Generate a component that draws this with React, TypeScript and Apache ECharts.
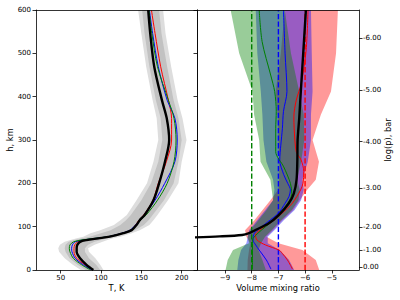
import React, { useEffect, useRef } from 'react';
import * as echarts from 'echarts';

// ---------- Left panel: temperature profiles ----------
const tempHeights = [0, 12, 27, 42, 50, 58, 65, 69, 73, 77, 85, 92, 104, 115, 127, 161, 200, 250, 300, 350, 392, 469, 546, 600];
const tempBlack = [90.5, 82, 74, 69.8, 69.8, 70.6, 74, 82, 96.7, 111, 127.7, 138, 144, 148, 154, 165, 172, 179.3, 184.5, 181.5, 175.5, 166, 161, 158.5];
const tempRed = [90, 80, 70, 66.5, 66.5, 67.5, 71, 80, 95, 110, 127, 137, 143, 147, 153, 164.5, 171, 181, 187.5, 187.5, 183.5, 174, 167, 162.5];
const tempBlue = [89, 78, 68, 64, 63.6, 64.5, 68, 77, 93, 109, 126, 136, 143, 148, 154, 167, 179, 191.6, 194.5, 191.6, 182, 171, 164, 160];
const tempGreen = [87, 76, 65.7, 61.5, 60.7, 61.5, 66, 75, 92, 109, 127, 137, 144, 149, 156, 170, 182, 190.5, 193, 190.5, 183.5, 170, 163, 159.5];
const grayOuterLo = [75, 65, 55, 48, 47, 49, 55, 62, 70, 78, 87, 99, 116, 124, 132, 144, 157, 165, 171, 169, 164, 156, 150, 146];
const grayOuterHi = [103, 99, 93, 85, 84, 92, 102, 108, 115, 124, 138, 148, 160, 165, 170, 183, 196, 200, 206, 201, 195, 187, 180, 177];
const grayInnerLo = [81, 71, 61, 56, 55, 56, 60, 67, 77, 86, 100, 112, 124, 131, 137, 150, 162, 171, 176, 174, 168, 160, 154, 151];
const grayInnerHi = [99, 94, 85, 80, 80, 84, 92, 100, 108, 117, 132, 142, 153, 159, 164, 178, 190, 196, 200, 196, 190, 182, 175, 172];
const tempTicks = [50, 100, 150, 200];

// ---------- Right panel: volume mixing ratio (log10) ----------
const bandHeights = [0, 23, 46, 61.5, 77, 92, 115, 138, 161, 185, 208, 250, 300, 358, 412, 500, 600];
const greenLo = [-8.98, -8.9, -8.7, -8.1, -8.15, -8.05, -7.75, -7.45, -7.2, -7.25, -7.3, -7.67, -7.72, -7.91, -7.97, -8.47, -8.79];
const greenHi = [-7.47, -7.6, -7.75, -7.65, -7.5, -7.25, -6.9, -6.5, -6.25, -6.2, -6.3, -6.15, -6.03, -6.05, -6.22, -6.53, -6.76];
const blueLo = [-8.54, -8.5, -8.4, -8.2, -8.15, -8.1, -7.8, -7.5, -7.2, -7.15, -7.2, -7.45, -7.56, -7.6, -7.66, -7.79, -7.85];
const blueHi = [-6.41, -6.6, -6.95, -7.4, -7.4, -7.15, -6.8, -6.4, -6.15, -6.05, -6.1, -5.9, -5.78, -5.78, -5.72, -5.75, -5.78];
const redLo = [-8.16, -8.15, -8.1, -8.05, -8.2, -8.25, -7.9, -7.6, -7.3, -7.0, -6.97, -6.97, -7.0, -7.03, -7.1, -6.91, -6.76];
const redHi = [-5.47, -5.6, -6.1, -7.0, -7.45, -7.2, -6.85, -6.45, -6.2, -5.92, -5.6, -5.48, -5.72, -5.41, -5.03, -4.84, -4.77];

const vmrBlackH = [75.0, 77.5, 80.8, 85, 92.3, 107.7, 127, 154, 177, 208, 254, 300, 350, 412, 500, 600];
const vmrBlackX = [-10.3, -9.2, -8.36, -8.1, -7.86, -7.36, -6.98, -6.61, -6.42, -6.32, -6.29, -6.28, -6.22, -6.16, -6.07, -5.97];
const vmrRedH = [2, 23, 38, 46, 57.7, 69, 80.8, 96, 111.5, 131, 154, 184.6, 200, 227, 254, 273, 327, 354, 392, 431, 508, 600];
const vmrRedX = [-6.47, -6.66, -6.85, -6.98, -7.48, -7.8, -7.86, -7.61, -7.23, -6.86, -6.48, -6.17, -6.08, -6.05, -6.15, -6.33, -6.41, -6.42, -6.33, -6.14, -5.96, -5.89];
const vmrBlueH = [2, 23, 46, 57.7, 69, 85, 96, 111, 131, 154, 170, 185, 200, 220, 254, 288, 327, 366, 412, 500, 600];
const vmrBlueX = [-7.28, -7.45, -7.72, -7.85, -7.95, -7.9, -7.7, -7.4, -7.0, -6.75, -6.6, -6.55, -6.65, -6.8, -6.95, -6.91, -6.85, -6.81, -6.68, -6.75, -6.81];
const vmrGreenH = [2, 30, 61.5, 69, 83, 100, 119, 146, 177, 200, 238, 273, 327, 366, 412, 450, 527, 600];
const vmrGreenX = [-7.97, -7.97, -7.97, -7.97, -7.8, -7.48, -7.11, -6.73, -6.5, -6.55, -6.8, -7.1, -7.1, -7.08, -7.14, -7.29, -7.61, -7.72];
const refValues = [-8, -7, -6];
const refColors = ['#008000', '#0000ff', '#ff0000'];
const vmrTicks = [-9, -8, -7, -6, -5];

// log(p) axis: labels and the altitudes where they sit
const logpLabels = ['0.00', '-1.00', '-2.00', '-3.00', '-4.00', '-5.00', '-6.00'];
const logpHeights = [6.2, 46.2, 98.5, 188.5, 296, 415.4, 534.6];

const FONT = 'DejaVu Sans';
const AX = { color: '#000', width: 0.8 };

function band(xi: number, yi: number, hs: number[], lo: number[], hi: number[], fill: string, z: number) {
  return {
    type: 'custom',
    xAxisIndex: xi,
    yAxisIndex: yi,
    clip: true,
    silent: true,
    z,
    data: hs.map((h, i) => [lo[i], h, hi[i]]),
    renderItem: (params: any, api: any) => {
      if (params.dataIndex !== 0) return null;
      const pts: number[][] = [];
      for (let i = 0; i < hs.length; i++) pts.push(api.coord([lo[i], hs[i]]));
      for (let i = hs.length - 1; i >= 0; i--) pts.push(api.coord([hi[i], hs[i]]));
      return { type: 'polygon', shape: { points: pts }, style: { fill } };
    },
  };
}

function line(xi: number, yi: number, xs: number[], hs: number[], color: string, width: number, z: number, dash?: any) {
  return {
    type: 'line',
    xAxisIndex: xi,
    yAxisIndex: yi,
    data: xs.map((x, i) => [x, hs[i]]),
    symbol: 'none',
    smooth: dash ? false : 0.3,
    silent: true,
    z,
    lineStyle: { color, width, type: dash || 'solid' },
  };
}

const minusFmt = (v: number) => (v < 0 ? '\u2212' + Math.abs(v) : String(v));

export default function App() {
  const ref = useRef<HTMLDivElement>(null);
  useEffect(() => {
    if (!ref.current) return;
    const chart = echarts.init(ref.current, null, { renderer: 'svg' });
    const tickStyle = { length: 3.5, lineStyle: AX };
    const lbl = { color: '#000', fontSize: 7, fontFamily: FONT };
    const borderAxis = (gridIndex: number, position: string, min: number, max: number) => ({
      gridIndex, type: 'value', position, min, max, z: 10,
      axisLine: { show: true, onZero: false, lineStyle: AX },
      axisTick: { show: false }, axisLabel: { show: false }, splitLine: { show: false },
    });
    const option: any = {
      animation: false,
      backgroundColor: '#fff',
      grid: [
        { left: 36, top: 10, width: 161, height: 260, outerBoundsMode: 'none' },
        { left: 197, top: 10, width: 162, height: 260, outerBoundsMode: 'none' },
      ],
      xAxis: [
        {
          gridIndex: 0, type: 'value', min: 19.4, max: 219, z: 10,
          axisLine: { show: true, onZero: false, lineStyle: AX },
          axisTick: { ...tickStyle, customValues: tempTicks },
          axisLabel: { ...lbl, margin: 4, customValues: tempTicks },
          splitLine: { show: false },
        },
        borderAxis(0, 'top', 19.4, 219),
        {
          gridIndex: 1, type: 'value', min: -10.05, max: -3.98, z: 10,
          axisLine: { show: true, onZero: false, lineStyle: AX },
          axisTick: { ...tickStyle, customValues: vmrTicks },
          axisLabel: { ...lbl, margin: 4, customValues: vmrTicks, formatter: minusFmt },
          splitLine: { show: false },
        },
        borderAxis(1, 'top', -10.05, -3.98),
      ],
      yAxis: [
        {
          gridIndex: 0, type: 'value', min: 0, max: 600, interval: 100, z: 10,
          axisLine: { show: true, onZero: false, lineStyle: AX },
          axisTick: tickStyle,
          axisLabel: { ...lbl, margin: 5 },
          splitLine: { show: false },
        },
        borderAxis(0, 'right', 0, 600),
        {
          gridIndex: 1, type: 'value', position: 'left', min: 0, max: 600, interval: 100, z: 10,
          axisLine: { show: true, onZero: false, lineStyle: AX },
          axisTick: tickStyle,
          axisLabel: { show: false },
          splitLine: { show: false },
        },
        {
          gridIndex: 1, type: 'value', position: 'right', min: 0, max: 600, z: 10,
          axisLine: { show: true, onZero: false, lineStyle: AX },
          axisTick: { ...tickStyle, customValues: logpHeights },
          axisLabel: {
            ...lbl, margin: 4, customValues: logpHeights,
            formatter: (v: number) => {
              const i = logpHeights.findIndex((h) => Math.abs(h - v) < 1e-6);
              return i >= 0 ? logpLabels[i] : '';
            },
          },
          splitLine: { show: false },
        },
      ],
      series: [
        band(0, 0, tempHeights, grayOuterLo, grayOuterHi, '#dddddd', 1),
        band(0, 0, tempHeights, grayInnerLo, grayInnerHi, '#c2c2c2', 2),
        line(0, 0, tempRed, tempHeights, '#ff0000', 1, 3),
        line(0, 0, tempBlue, tempHeights, '#0000ff', 1, 3),
        line(0, 0, tempGreen, tempHeights, '#008000', 1, 3),
        line(0, 0, tempBlack, tempHeights, '#000000', 2.4, 4),

        band(2, 2, bandHeights, redLo, redHi, 'rgba(255,0,0,0.4)', 1),
        band(2, 2, bandHeights, blueLo, blueHi, 'rgba(0,0,255,0.4)', 1),
        band(2, 2, bandHeights, greenLo, greenHi, 'rgba(0,128,0,0.4)', 1),
        ...refValues.map((v, i) => line(2, 2, [v, v], [0, 600], refColors[i], 1.4, 3, [5.3, 2.3])),
        line(2, 2, vmrRedX, vmrRedH, '#ff0000', 1, 3),
        line(2, 2, vmrBlueX, vmrBlueH, '#0000ff', 1, 3),
        line(2, 2, vmrGreenX, vmrGreenH, '#008000', 1, 3),
        line(2, 2, vmrBlackX, vmrBlackH, '#000000', 2.4, 4),
      ],
      graphic: [
        { type: 'text', x: 10, y: 140, rotation: Math.PI / 2, style: { text: 'h, km', fontSize: 8.3, fontFamily: FONT, fill: '#000', align: 'center', verticalAlign: 'middle' } },
        { type: 'text', x: 116.5, y: 288, style: { text: 'T, K', fontSize: 8.3, fontFamily: FONT, fill: '#000', align: 'center', verticalAlign: 'middle' } },
        { type: 'text', x: 278, y: 288, style: { text: 'Volume mixing ratio', fontSize: 8.3, fontFamily: FONT, fill: '#000', align: 'center', verticalAlign: 'middle' } },
        { type: 'text', x: 388, y: 140, rotation: Math.PI / 2, style: { text: 'log(p), bar', fontSize: 8.3, fontFamily: FONT, fill: '#000', align: 'center', verticalAlign: 'middle' } },
      ],
    };
    chart.setOption(option);
    return () => chart.dispose();
  }, []);
  return <div ref={ref} style={{ position: 'fixed', left: 0, top: 0, width: 400, height: 300 }} />;
}
